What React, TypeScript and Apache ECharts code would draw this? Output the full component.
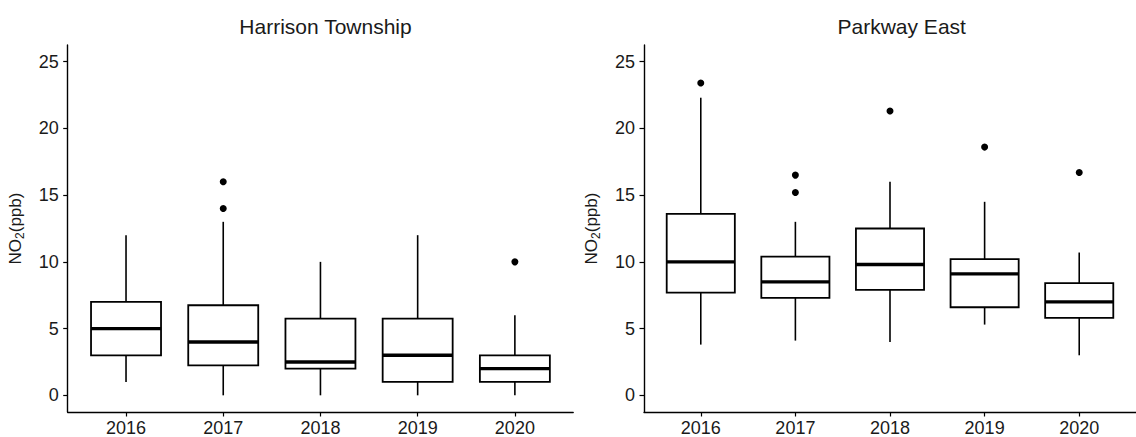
import React, { useEffect, useRef } from "react";
import * as echarts from "echarts";

const years = ["2016", "2017", "2018", "2019", "2020"];
const yTicks = [0, 5, 10, 15, 20, 25];
const titles = ["Harrison Township", "Parkway East"];

// Harrison Township
const harrisonLow = [1, 0, 0, 0, 0];
const harrisonQ1 = [3, 2.25, 2, 1, 1];
const harrisonMedian = [5, 4, 2.5, 3, 2];
const harrisonQ3 = [7, 6.75, 5.75, 5.75, 3];
const harrisonHigh = [12, 13, 10, 12, 6];
const harrisonOutlierYears = ["2017", "2017", "2020"];
const harrisonOutlierValues = [16, 14, 10];

// Parkway East
const parkwayLow = [3.8, 4.1, 4.0, 5.3, 3.0];
const parkwayQ1 = [7.7, 7.3, 7.9, 6.6, 5.8];
const parkwayMedian = [10.0, 8.5, 9.8, 9.1, 7.0];
const parkwayQ3 = [13.6, 10.4, 12.5, 10.2, 8.4];
const parkwayHigh = [22.3, 13.0, 16.0, 14.5, 10.7];
const parkwayOutlierYears = ["2016", "2017", "2017", "2018", "2019", "2020"];
const parkwayOutlierValues = [23.4, 16.5, 15.2, 21.3, 18.6, 16.7];

const FONT = "Liberation Sans, Arial, sans-serif";
const TEXT = "#1a1a1a";

function boxData(low: number[], q1: number[], med: number[], q3: number[], high: number[]) {
  return years.map((_, i) => [i + 1, low[i], q1[i], med[i], q3[i], high[i]]);
}

function outlierData(ys: string[], vs: number[]) {
  return ys.map((y, i) => [years.indexOf(y) + 1, vs[i]]);
}

const renderBox = (params: any, api: any) => {
  const x = api.value(0);
  const pLow = api.coord([x, api.value(1)]);
  const pQ1 = api.coord([x, api.value(2)]);
  const pMed = api.coord([x, api.value(3)]);
  const pQ3 = api.coord([x, api.value(4)]);
  const pHigh = api.coord([x, api.value(5)]);
  const hw = api.size([0.72, 0])[0] / 2;
  const cx = pMed[0];
  const stroke = { stroke: "#000", lineWidth: 1.6 };
  return {
    type: "group",
    children: [
      { type: "line", shape: { x1: cx, y1: pLow[1], x2: cx, y2: pQ1[1] }, style: stroke },
      { type: "line", shape: { x1: cx, y1: pQ3[1], x2: cx, y2: pHigh[1] }, style: stroke },
      {
        type: "rect",
        shape: { x: cx - hw, y: pQ3[1], width: hw * 2, height: pQ1[1] - pQ3[1] },
        style: { fill: "#fff", stroke: "#000", lineWidth: 1.8 },
      },
      {
        type: "line",
        shape: { x1: cx - hw, y1: pMed[1], x2: cx + hw, y2: pMed[1] },
        style: { stroke: "#000", lineWidth: 3.4 },
      },
    ],
  };
};

export default function App() {
  const ref = useRef<HTMLDivElement>(null);

  useEffect(() => {
    if (!ref.current) return;
    const chart = echarts.init(ref.current, undefined, { renderer: "svg" });

    const grids = [
      { left: 67.7, top: 45, width: 505.5, height: 367.7 },
      { left: 644, top: 45, width: 505.5, height: 367.7 },
    ];

    const xAxes = grids.map((_, i) => ({
      type: "value",
      gridIndex: i,
      min: 0.4,
      max: 5.6,
      splitLine: { show: false },
      axisLine: { show: true, onZero: false, lineStyle: { color: "#000", width: 1.4 } },
      axisTick: { show: true, length: 4.5, customValues: [1, 2, 3, 4, 5], lineStyle: { color: "#000", width: 1.2 } },
      axisLabel: {
        customValues: [1, 2, 3, 4, 5],
        formatter: (v: number) => years[Math.round(v) - 1] ?? "",
        color: TEXT,
        fontSize: 18,
        fontFamily: FONT,
        margin: 7,
      },
    }));

    const yAxes = grids.map((_, i) => ({
      type: "value",
      gridIndex: i,
      min: -1.25,
      max: 26.25,
      splitLine: { show: false },
      axisLine: { show: true, onZero: false, lineStyle: { color: "#000", width: 1.4 } },
      axisTick: { show: true, length: 4.5, customValues: yTicks, lineStyle: { color: "#000", width: 1.2 } },
      axisLabel: {
        customValues: yTicks,
        color: TEXT,
        fontSize: 18,
        fontFamily: FONT,
        margin: 9,
      },
      name: "{a|NO}{b|2}{a|(ppb)}",
      nameLocation: "middle",
      nameRotate: 90,
      nameGap: 42,
      nameTextStyle: {
        rich: {
          a: { fontSize: 17, fontFamily: FONT, color: TEXT },
          b: { fontSize: 12, fontFamily: FONT, color: TEXT, padding: [9, 0, 0, 0] },
        },
      },
    }));

    chart.setOption({
      animation: false,
      backgroundColor: "#fff",
      title: titles.map((t, i) => ({
        text: t,
        left: i === 0 ? 320.5 : 896.7,
        top: 11,
        textAlign: "center",
        textStyle: { fontSize: 21, fontWeight: "normal", fontFamily: FONT, color: TEXT },
      })),
      grid: grids,
      xAxis: xAxes,
      yAxis: yAxes,
      series: [
        {
          type: "custom",
          xAxisIndex: 0,
          yAxisIndex: 0,
          renderItem: renderBox,
          encode: { x: 0, y: [1, 2, 3, 4, 5] },
          data: boxData(harrisonLow, harrisonQ1, harrisonMedian, harrisonQ3, harrisonHigh),
        },
        {
          type: "custom",
          xAxisIndex: 1,
          yAxisIndex: 1,
          renderItem: renderBox,
          encode: { x: 0, y: [1, 2, 3, 4, 5] },
          data: boxData(parkwayLow, parkwayQ1, parkwayMedian, parkwayQ3, parkwayHigh),
        },
        {
          type: "scatter",
          xAxisIndex: 0,
          yAxisIndex: 0,
          symbolSize: 7,
          itemStyle: { color: "#000", opacity: 1 },
          data: outlierData(harrisonOutlierYears, harrisonOutlierValues),
        },
        {
          type: "scatter",
          xAxisIndex: 1,
          yAxisIndex: 1,
          symbolSize: 7,
          itemStyle: { color: "#000", opacity: 1 },
          data: outlierData(parkwayOutlierYears, parkwayOutlierValues),
        },
      ],
    });

    return () => chart.dispose();
  }, []);

  return (
    <div
      ref={ref}
      style={{ position: "fixed", left: 0, top: 0, width: 1136, height: 437, background: "#fff" }}
    />
  );
}
